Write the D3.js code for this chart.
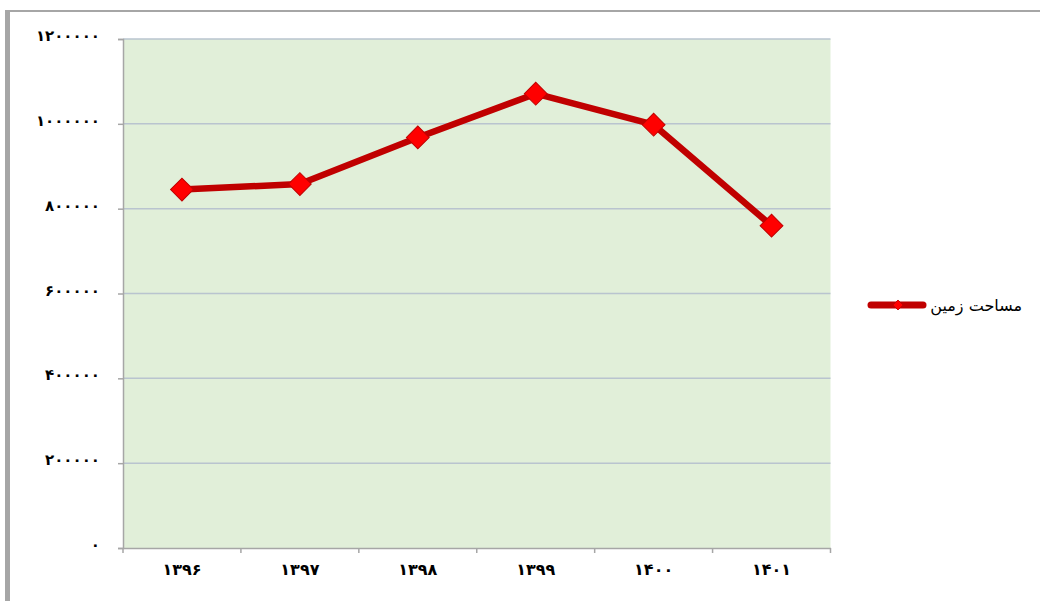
<!DOCTYPE html>
<html><head><meta charset="utf-8">
<script src="https://cdn.jsdelivr.net/npm/d3@7"></script>
<style>body{margin:0;background:#fff;}svg{display:block;}</style>
</head><body>
<svg id="c" width="1040" height="601"></svg>
<script>
const categories = ["۱۳۹۶","۱۳۹۷","۱۳۹۸","۱۳۹۹","۱۴۰۰","۱۴۰۱"];
const seriesName = "مساحت زمین";
const values = [845000, 858000, 968000, 1071000, 998000, 760000];
const yTicks = [0, 200000, 400000, 600000, 800000, 1000000, 1200000];

const toFa = s => String(s).replace(/\d/g, d => "۰۱۲۳۴۵۶۷۸۹"[+d]);

const svg = d3.select("#c");
const L = 123, R = 830.5, T = 39, B = 548;

// outer frame
svg.append("line").attr("x1",5).attr("x2",1040).attr("y1",11).attr("y2",11).attr("stroke","#a6a6a6").attr("stroke-width",2);
svg.append("line").attr("x1",7.5).attr("x2",7.5).attr("y1",10).attr("y2",601).attr("stroke","#a6a6a6").attr("stroke-width",5);

const x = d3.scaleBand().domain(categories).range([L, R]);
const y = d3.scaleLinear().domain([0, 1200000]).range([B, T]);

svg.append("rect").attr("x",L).attr("y",T).attr("width",R-L).attr("height",B-T).attr("fill","#e1efd9");

// gridlines
svg.append("g").selectAll("line").data(yTicks.filter(d=>d>0)).join("line")
  .attr("x1",L).attr("x2",R).attr("y1",d=>y(d)).attr("y2",d=>y(d))
  .attr("stroke","#b9c4cf").attr("stroke-width",1.5);

// y axis
const yAx = svg.append("g").attr("transform",`translate(${L},0)`)
  .call(d3.axisLeft(y).tickValues(yTicks).tickSize(5).tickPadding(18).tickFormat(d=>toFa(d)));
yAx.select(".domain").attr("stroke","#a6a6a6").attr("stroke-width",1.5);
yAx.selectAll(".tick line").attr("stroke","#a6a6a6").attr("stroke-width",1.5);
yAx.selectAll("text").attr("font-family","DejaVu Sans").attr("font-weight","bold").attr("font-size",15)
  .attr("fill","#000").attr("letter-spacing","2.4px").attr("dy","0.1em");

// x axis
const xAx = svg.append("g").attr("transform",`translate(0,${B})`)
  .call(d3.axisBottom(x).tickSize(0).tickPadding(16));
xAx.select(".domain").attr("stroke","#a6a6a6").attr("stroke-width",1.5);
xAx.selectAll("text").attr("font-family","DejaVu Sans").attr("font-weight","bold").attr("font-size",16)
  .attr("fill","#000").attr("letter-spacing","2px");
const bounds = categories.map(c=>x(c)).concat([R]);
svg.append("g").selectAll("line").data(bounds).join("line")
  .attr("x1",d=>d).attr("x2",d=>d).attr("y1",B).attr("y2",B+5)
  .attr("stroke","#a6a6a6").attr("stroke-width",1.5);

// line
const cx = (d,i) => x(categories[i]) + x.bandwidth()/2;
const line = d3.line().x(cx).y(d=>y(d));
svg.append("path").datum(values).attr("d",line).attr("fill","none")
  .attr("stroke","#c00000").attr("stroke-width",6.5).attr("stroke-linejoin","round");

svg.append("g").selectAll("path").data(values).join("path")
  .attr("d", d3.symbol().type(d3.symbolSquare).size(260))
  .attr("transform",(d,i)=>`translate(${cx(d,i)},${y(d)}) rotate(45)`)
  .attr("fill","#ff0000").attr("stroke","#c00000").attr("stroke-width",1);

// legend
const lg = svg.append("g");
lg.append("line").attr("x1",871).attr("x2",923).attr("y1",305).attr("y2",305)
  .attr("stroke","#c00000").attr("stroke-width",7).attr("stroke-linecap","round");
lg.append("path").attr("d", d3.symbol().type(d3.symbolSquare).size(50))
  .attr("transform","translate(898,305) rotate(45)").attr("fill","#ff0000").attr("stroke","#c00000").attr("stroke-width",0.8);
lg.append("text").attr("x",1022).attr("y",311).attr("text-anchor","start").attr("direction","rtl")
  .attr("font-family","DejaVu Sans").attr("font-size",16).attr("fill","#000").text(seriesName);
</script>
</body></html>
